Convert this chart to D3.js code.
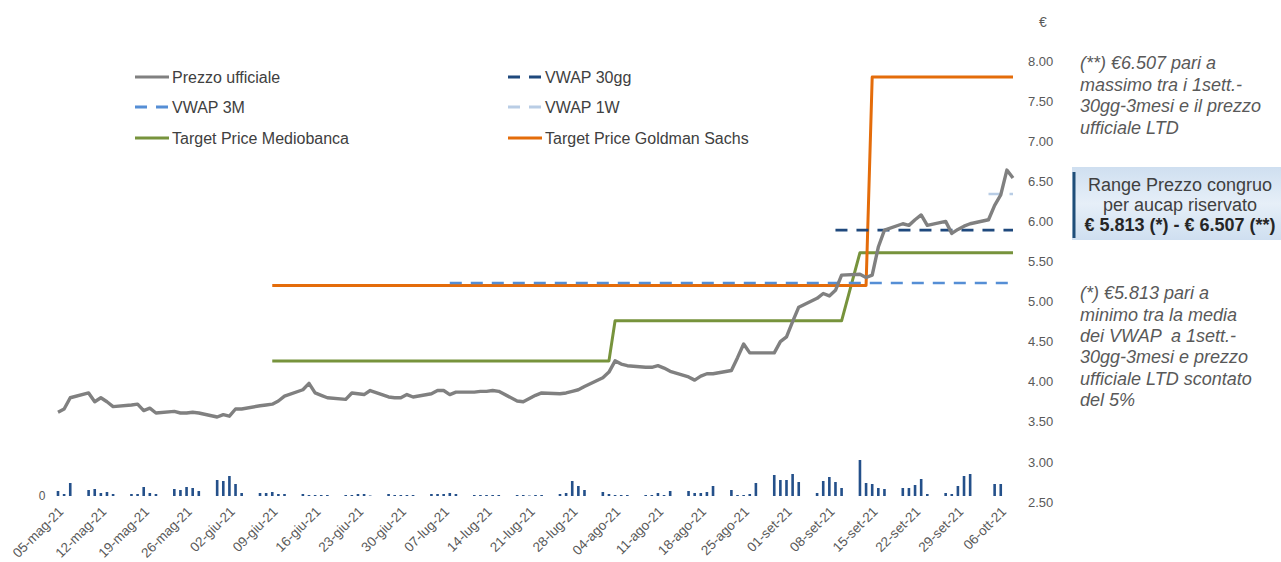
<!DOCTYPE html>
<html>
<head>
<meta charset="utf-8">
<script src="https://cdn.jsdelivr.net/npm/d3@7"></script>
<style>
body { margin: 0; background: #fff; }
svg text { font-family: "Liberation Sans", Arial, sans-serif; white-space: pre; }
</style>
</head>
<body>
<svg id="chart" width="1281" height="562"></svg>
<script>
// periodo (giorni lavorativi)
var first_day = "2021-05-05",
    last_day = "2021-10-08";

// Prezzo ufficiale, un valore per giorno lavorativo
var prezzo = [
    3.62, 3.66, 3.80,
    3.86, 3.75, 3.80, 3.75, 3.69,
    3.71, 3.72, 3.64, 3.67, 3.61,
    3.63, 3.61, 3.61, 3.62, 3.61,
    3.56, 3.59, 3.57, 3.66, 3.66,
    3.70, 3.71, 3.72, 3.76, 3.82,
    3.90, 3.98, 3.86, 3.83, 3.80,
    3.78, 3.86, 3.85, 3.84, 3.89,
    3.81, 3.80, 3.80, 3.84, 3.81,
    3.85, 3.89, 3.89, 3.84, 3.87,
    3.87, 3.88, 3.88, 3.89, 3.88,
    3.76, 3.75, 3.79, 3.83, 3.86,
    3.85, 3.86, 3.88, 3.90, 3.94,
    4.05, 4.12, 4.26, 4.22, 4.20,
    4.18, 4.18, 4.20, 4.17, 4.13,
    4.06, 4.02, 4.07, 4.10, 4.10,
    4.14, 4.30, 4.47, 4.36, 4.36,
    4.36, 4.50, 4.56, 4.75, 4.93,
    5.04, 5.10, 5.07, 5.14, 5.33,
    5.34, 5.30, 5.33, 5.68, 5.89,
    5.97, 5.95, 6.02, 6.08, 5.95,
    6.00, 5.85, 5.90, 5.94, 5.97,
    6.02, 6.20, 6.33, 6.64, 6.54
];

// Volumi (migliaia di azioni), stesso calendario
var volumi = [
    200, 80, 520,
    240, 280, 120, 160, 80,
    80, 80, 360, 120, 80,
    280, 240, 360, 320, 200,
    640, 600, 800, 480, 120,
    120, 120, 160, 80, 80,
    80, 40, 40, 40, 40,
    40, 40, 80, 80, 20,
    80, 40, 40, 40, 40,
    80, 80, 80, 120, 80,
    40, 40, 40, 40, 40,
    40, 40, 20, 40, 40,
    80, 120, 600, 400, 240,
    160, 80, 40, 40, 40,
    40, 40, 120, 40, 200,
    200, 120, 120, 160, 400,
    240, 40, 40, 80, 520,
    840, 640, 640, 880, 560,
    120, 600, 760, 560, 320,
    1440, 520, 480, 320, 280,
    320, 320, 440, 680, 80,
    120, 80, 400, 800, 880,
    0, 480, 480, 0, 0
];

var target_mediobanca = [["2021-06-09", 4.26], ["2021-08-03", 4.26], ["2021-08-04", 4.76],
    ["2021-09-10", 4.76], ["2021-09-13", 5.61], ["2021-10-08", 5.61]];
var target_goldman = [["2021-06-09", 5.20], ["2021-09-14", 5.20], ["2021-09-15", 7.80], ["2021-10-08", 7.80]];
var vwap_3m = [["2021-07-08", 5.23], ["2021-10-08", 5.23]];
var vwap_30gg = [["2021-09-09", 5.89], ["2021-10-08", 5.89]];
var vwap_1w = [["2021-10-04", 6.34], ["2021-10-08", 6.34]];

var price_ticks = [2.5, 3, 3.5, 4, 4.5, 5, 5.5, 6, 6.5, 7, 7.5, 8];
var mesi = ["gen", "feb", "mar", "apr", "mag", "giu", "lug", "ago", "set", "ott", "nov", "dic"];

var nota_max = ["(**) €6.507 pari a", "massimo tra i 1sett.-", "30gg-3mesi e il prezzo", "ufficiale LTD"];
var nota_min = ["(*) €5.813 pari a", "minimo tra la media", "dei VWAP  a 1sett.-", "30gg-3mesi e prezzo",
    "ufficiale LTD scontato", "del 5%"];
var range_testo = ["Range Prezzo congruo", "per aucap riservato", "€ 5.813 (*) - € 6.507 (**)"];

var colors = {
    prezzo: "#808080",
    vwap3m: "#558ed5",
    vwap30: "#1f497d",
    vwap1w: "#b9cde5",
    mediobanca: "#77933c",
    goldman: "#e46c0a",
    volume: "#24508a",
    text: "#595959"
};

var parse = d3.utcParse("%Y-%m-%d");
var it = d3.timeFormatLocale({
    dateTime: "%A %e %B %Y, %X", date: "%d/%m/%Y", time: "%H:%M:%S", periods: ["AM", "PM"],
    days: ["domenica", "lunedì", "martedì", "mercoledì", "giovedì", "venerdì", "sabato"],
    shortDays: ["dom", "lun", "mar", "mer", "gio", "ven", "sab"],
    months: ["gennaio", "febbraio", "marzo", "aprile", "maggio", "giugno", "luglio", "agosto",
        "settembre", "ottobre", "novembre", "dicembre"],
    shortMonths: mesi
});
var fmt_date = it.utcFormat("%d-%b-%y");

var giorni = d3.utcDay.range(parse(first_day), d3.utcDay.offset(parse(last_day), 1))
    .filter(function (d) { return d.getUTCDay() % 6 !== 0; });

var serie_prezzo = giorni.map(function (d, i) { return [d, prezzo[i]]; });
var serie_volumi = giorni.map(function (d, i) { return [d, volumi[i]]; });

var svg = d3.select("#chart");

var x = d3.scaleUtc().domain([parse(first_day), parse(last_day)]).range([58, 1013]);
var y = d3.scaleLinear().domain([2.5, 8]).range([502, 61]);
var y_vol = d3.scaleLinear().domain([0, 2000]).range([496, 446]);

// volumi
svg.append("g").selectAll("rect").data(serie_volumi.filter(function (d) { return d[1] > 0; }))
    .enter().append("rect")
    .attr("x", function (d) { return x(d[0]) - 1.3; })
    .attr("width", 2.6)
    .attr("y", function (d) { return y_vol(d[1]); })
    .attr("height", function (d) { return y_vol(0) - y_vol(d[1]); })
    .attr("fill", colors.volume);

svg.append("text").attr("x", 42).attr("y", 496).attr("dy", "0.35em")
    .attr("text-anchor", "middle").attr("font-size", 12).attr("fill", colors.text).text("0");

// asse x
var tick_dates = d3.utcWednesday.range(parse("2021-05-05"), parse("2021-10-07"));
svg.append("g").selectAll("text").data(tick_dates).enter().append("text")
    .attr("transform", function (d) { return "translate(" + (x(d) + 3) + ",509)rotate(-45)"; })
    .attr("text-anchor", "end")
    .attr("dy", "0.35em")
    .attr("font-size", 13.5)
    .attr("fill", colors.text)
    .text(function (d) { return fmt_date(d); });

// asse y destro
var y_axis = svg.append("g").attr("transform", "translate(1022,0)")
    .call(d3.axisRight(y).tickValues(price_ticks).tickSize(0).tickPadding(6).tickFormat(d3.format(".2f")));
y_axis.select(".domain").remove();
y_axis.selectAll("text").attr("font-size", 13).attr("fill", colors.text)
    .style("font-family", "'Liberation Sans', Arial, sans-serif");

svg.append("text").attr("x", 1043).attr("y", 22).attr("text-anchor", "middle")
    .attr("dy", "0.35em").attr("font-size", 14).attr("fill", colors.text).text("€");

var line = d3.line()
    .x(function (d) { return x(typeof d[0] === "string" ? parse(d[0]) : d[0]); })
    .y(function (d) { return y(d[1]); });

function draw_series(data, color, width, dash) {
    svg.append("path").datum(data)
        .attr("d", line)
        .attr("fill", "none")
        .attr("stroke", color)
        .attr("stroke-width", width)
        .attr("stroke-linejoin", "round")
        .attr("stroke-dasharray", dash || null);
}

draw_series(target_mediobanca, colors.mediobanca, 3);
draw_series(target_goldman, colors.goldman, 3);
draw_series(vwap_3m, colors.vwap3m, 2.5, "12,9");
draw_series(vwap_30gg, colors.vwap30, 2.8, "12,9");
draw_series(vwap_1w, colors.vwap1w, 2.5, "12,9");
draw_series(serie_prezzo, colors.prezzo, 3.4);

// legenda
var legenda = [
    {label: "Prezzo ufficiale", color: colors.prezzo, dash: null, x: 135, y: 77},
    {label: "VWAP 3M", color: colors.vwap3m, dash: "12,9", x: 135, y: 107},
    {label: "Target Price Mediobanca", color: colors.mediobanca, dash: null, x: 135, y: 138},
    {label: "VWAP 30gg", color: colors.vwap30, dash: "12,9", x: 508, y: 77},
    {label: "VWAP 1W", color: colors.vwap1w, dash: "12,9", x: 508, y: 107},
    {label: "Target Price Goldman Sachs", color: colors.goldman, dash: null, x: 508, y: 138}
];
var leg = svg.append("g").selectAll("g").data(legenda).enter().append("g")
    .attr("transform", function (d) { return "translate(" + d.x + "," + d.y + ")"; });
leg.append("line").attr("x1", 0).attr("x2", 34)
    .attr("stroke", function (d) { return d.color; })
    .attr("stroke-width", 3)
    .attr("stroke-dasharray", function (d) { return d.dash; });
leg.append("text").attr("x", 37).attr("dy", "0.35em").attr("font-size", 16)
    .attr("fill", "#404040").text(function (d) { return d.label; });

// note a destra
svg.append("g").selectAll("text").data(nota_max).enter().append("text")
    .attr("x", 1080).attr("y", function (d, i) { return 63 + i * 21.5; })
    .attr("dy", "0.35em").attr("font-size", 18).attr("font-style", "italic")
    .attr("fill", colors.text).text(function (d) { return d; });

svg.append("g").selectAll("text").data(nota_min).enter().append("text")
    .attr("x", 1080).attr("y", function (d, i) { return 293 + i * 21.3; })
    .attr("dy", "0.35em").attr("font-size", 18).attr("font-style", "italic")
    .attr("fill", colors.text).text(function (d) { return d; });

// riquadro range
var grad = svg.append("defs").append("linearGradient").attr("id", "range-bg")
    .attr("x1", 0).attr("y1", 0).attr("x2", 0).attr("y2", 1);
grad.append("stop").attr("offset", "0%").attr("stop-color", "#cfdff0");
grad.append("stop").attr("offset", "50%").attr("stop-color", "#e6eff8");
grad.append("stop").attr("offset", "100%").attr("stop-color", "#cfdff0");

svg.append("rect").attr("x", 1072).attr("y", 167).attr("width", 212).attr("height", 73)
    .attr("fill", "url(#range-bg)");
svg.append("line").attr("x1", 1074).attr("x2", 1074).attr("y1", 172).attr("y2", 238)
    .attr("stroke", "#1f4e79").attr("stroke-width", 3);
svg.append("g").selectAll("text").data(range_testo).enter().append("text")
    .attr("x", 1180).attr("y", function (d, i) { return 185 + i * 20; })
    .attr("dy", "0.35em").attr("text-anchor", "middle").attr("font-size", 18)
    .attr("font-weight", function (d, i) { return i == 2 ? "bold" : "normal"; })
    .attr("fill", function (d, i) { return i == 2 ? "#262626" : "#404040"; })
    .text(function (d) { return d; });
</script>
</body>
</html>
